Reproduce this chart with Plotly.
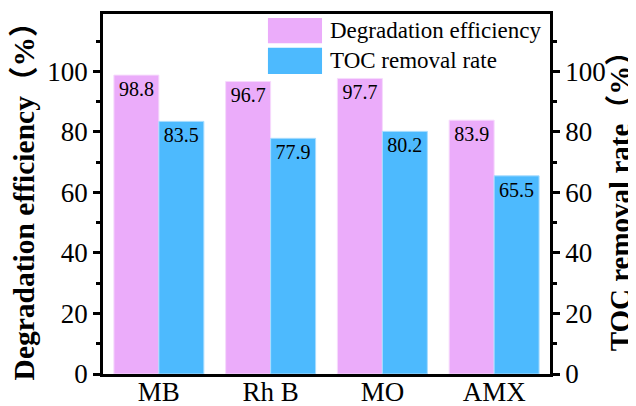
import plotly.graph_objects as go

categories = ["MB", "Rh B", "MO", "AMX"]
degradation = [98.8, 96.7, 97.7, 83.9]
toc_removal = [83.5, 77.9, 80.2, 65.5]
y_ticks = [0, 20, 40, 60, 80, 100]

FONT = "Liberation Serif, 'Times New Roman', Noto Sans CJK SC, serif"
PINK = "#EBACFA"
BLUE = "#4DBAFE"

fig = go.Figure()
fig.add_trace(go.Bar(
    x=categories, y=degradation, name="Degradation efficiency",
    marker=dict(color=PINK, line=dict(color="#F6DAFC", width=1)),
    texttemplate="%{y:.1f}", textposition="inside", insidetextanchor="end",
    textfont=dict(family=FONT, size=20, color="black"), constraintext="none",
    showlegend=False,
))
fig.add_trace(go.Bar(
    x=categories, y=toc_removal, name="TOC removal rate",
    marker=dict(color=BLUE, line=dict(color="#A8DCFE", width=1)),
    texttemplate="%{y:.1f}", textposition="inside", insidetextanchor="end",
    textfont=dict(family=FONT, size=20, color="black"), constraintext="none",
    showlegend=False,
))
# invisible trace to activate right axis
fig.add_trace(go.Scatter(x=categories, y=toc_removal, yaxis="y2", mode="markers",
                         marker=dict(opacity=0), showlegend=False, hoverinfo="skip"))

axis_common = dict(
    range=[0, 119], tickvals=y_ticks, ticks="outside", ticklen=7, tickwidth=2.5,
    tickcolor="black", showline=True, linecolor="black", linewidth=2.5,
    showgrid=False, zeroline=False, automargin=False,
    tickfont=dict(family=FONT, size=27, color="black"),
    minor=dict(dtick=10, tick0=0, ticks="outside", ticklen=4, tickwidth=2.5, tickcolor="black", showgrid=False),
)

# page body has an 8px margin, so the figure is drawn 8px smaller and offset
fig.update_layout(
    width=628, height=398,
    margin=dict(l=95, r=86, t=6, b=32),
    font=dict(family=FONT, color="black"),
    plot_bgcolor="white", paper_bgcolor="white",
    barmode="group", bargap=0.195, bargroupgap=0,
    xaxis=dict(
        showline=True, linecolor="black", linewidth=2.5, mirror=True,
        ticks="", showgrid=False, range=[-0.5, 3.5], automargin=False,
        ticklabelstandoff=-8,
        tickfont=dict(family=FONT, size=27, color="black"),
    ),
    yaxis=dict(
        title=dict(text="<b>Degradation efficiency（%）</b>", standoff=8,
                   font=dict(family=FONT, size=29.5, color="black")),
        **axis_common,
    ),
    yaxis2=dict(
        overlaying="y", side="right",
        title=dict(text="<b>TOC removal rate（%）</b>", standoff=4,
                   font=dict(family=FONT, size=29, color="black")),
        **axis_common,
    ),
    showlegend=False,
)

# custom legend with large swatches
legend_items = [("Degradation efficiency", PINK, 0.989, 0.919),
                ("TOC removal rate", BLUE, 0.906, 0.833)]
for label, color, y1, y0 in legend_items:
    fig.add_shape(type="rect", xref="paper", yref="paper", x0=0.369, x1=0.49,
                  y0=y0, y1=y1, fillcolor=color, line=dict(width=0))
    fig.add_annotation(xref="paper", yref="paper", x=0.503, y=(y0 + y1) / 2,
                       text=label, showarrow=False, xanchor="left", yanchor="middle",
                       font=dict(family=FONT, size=23, color="black"))

fig.write_html("out.html")
